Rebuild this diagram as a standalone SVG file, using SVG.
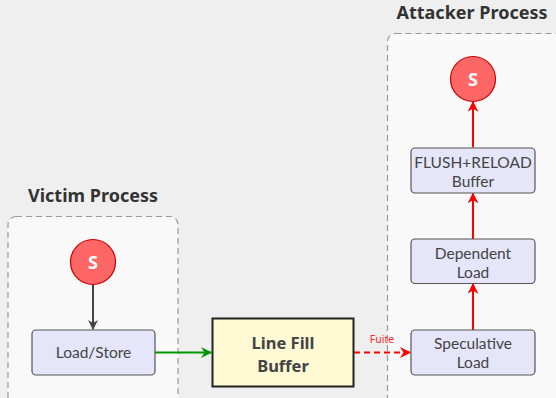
<svg xmlns="http://www.w3.org/2000/svg" width="556" height="398" viewBox="0 0 556 398">
<defs>
<style>
.bg{fill:#efefef}
.cluster{fill:#f9f9f9;stroke:#999;stroke-width:1.2;stroke-dasharray:6 4}
.ctitle{font-family:"Noto Sans","Open Sans",sans-serif;font-weight:bold;font-size:18px;fill:#333;text-anchor:middle}
.node{fill:#e6e6fb;stroke:#555;stroke-width:1.2}
.lbl{font-family:Lato,"Noto Sans",sans-serif;font-size:15.5px;fill:#444;text-anchor:middle}
.start{fill:#ff6666;stroke:#c00;stroke-width:1.2}
.stxt{font-family:"Noto Sans","Open Sans",sans-serif;font-weight:bold;font-size:18px;fill:#fff;text-anchor:middle}
.lfb{fill:#fff9d4;stroke:#222;stroke-width:2}
.lfbtxt{font-family:"Noto Sans","Open Sans",sans-serif;font-weight:bold;font-size:16.5px;fill:#444;text-anchor:middle}
.e{fill:none;stroke-width:2}
</style>
<marker id="ag" viewBox="0 0 10 10" refX="9" refY="5" markerWidth="10" markerHeight="10" markerUnits="userSpaceOnUse" orient="auto"><path d="M0,0 L10,5 L0,10 L3,5 z" fill="#444"/></marker>
<marker id="agr" viewBox="0 0 10 10" refX="9" refY="5" markerWidth="11" markerHeight="11" markerUnits="userSpaceOnUse" orient="auto"><path d="M0,0 L10,5 L0,10 L3,5 z" fill="#009900"/></marker>
<marker id="ar" viewBox="0 0 10 10" refX="9" refY="5" markerWidth="11" markerHeight="11" markerUnits="userSpaceOnUse" orient="auto"><path d="M0,0 L10,5 L0,10 L3,5 z" fill="#ff0000"/></marker>
</defs>
<rect class="bg" x="0" y="0" width="556" height="398"/>
<g id="victim">
<rect class="cluster" x="8" y="216.5" width="170" height="190" rx="8"/>
<text class="ctitle" x="93" y="202">Victim Process</text>
</g>
<g id="attacker">
<rect class="cluster" x="387.5" y="33.5" width="176" height="372" rx="8"/>
<text class="ctitle" x="472" y="19">Attacker Process</text>
</g>
<g id="connectors">
<path class="e" d="M93,285 V329" stroke="#444" stroke-width="1.5" marker-end="url(#ag)"/>
<path class="e" d="M155,352.5 H211" stroke="#009900" marker-end="url(#agr)"/>
<path class="e" d="M354,352.5 H410" stroke="#ff0000" stroke-dasharray="6 4" marker-end="url(#ar)"/>
<text x="382" y="343" font-family="'Noto Sans',sans-serif" font-size="10.5" fill="#ff2a2a" text-anchor="middle">Fuite</text>
<path class="e" d="M473,330 V284" stroke="#ff0000" marker-end="url(#ar)"/>
<path class="e" d="M473,239 V193.5" stroke="#ff0000" marker-end="url(#ar)"/>
<path class="e" d="M473,147.5 V102" stroke="#ff0000" marker-end="url(#ar)"/>
</g>
<g id="victim_s">
<circle class="start" cx="93" cy="262" r="22.5"/>
<text class="stxt" x="93" y="268.5">S</text>
</g>
<g id="load_store">
<rect class="node" x="32" y="330" width="123" height="45" rx="4"/>
<text class="lbl" x="93.5" y="358">Load/Store</text>
</g>
<g id="lfb">
<rect class="lfb" x="212.5" y="318.5" width="141" height="68"/>
<text class="lfbtxt" x="283" y="349">Line Fill</text>
<text class="lfbtxt" x="283" y="371.5">Buffer</text>
</g>
<g id="spec_load">
<rect class="node" x="411" y="330" width="124" height="45" rx="4"/>
<text class="lbl" x="473" y="349">Speculative</text>
<text class="lbl" x="473" y="368">Load</text>
</g>
<g id="dep_load">
<rect class="node" x="411" y="239" width="124" height="44.5" rx="4"/>
<text class="lbl" x="473" y="258.5">Dependent</text>
<text class="lbl" x="473" y="277.5">Load</text>
</g>
<g id="flush_reload">
<rect class="node" x="411" y="148" width="124" height="45" rx="4"/>
<text class="lbl" x="473" y="167.5">FLUSH+RELOAD</text>
<text class="lbl" x="473" y="186.5">Buffer</text>
</g>
<g id="attacker_s">
<circle class="start" cx="473" cy="79" r="22.5"/>
<text class="stxt" x="473" y="85.5">S</text>
</g>
</svg>
